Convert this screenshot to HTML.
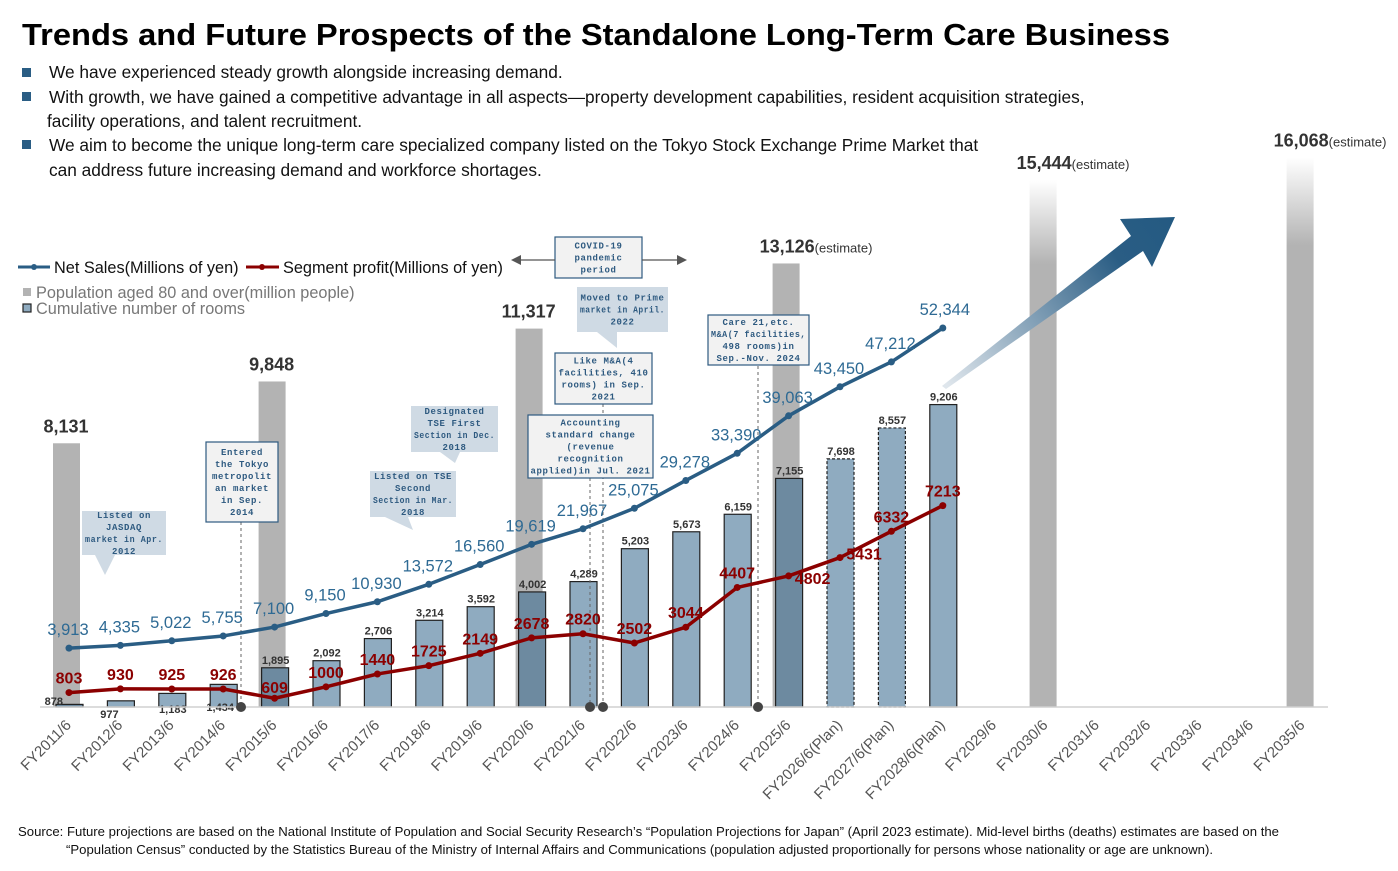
<!DOCTYPE html>
<html><head><meta charset="utf-8">
<style>
html,body{margin:0;padding:0;background:#fff;}
body{width:1398px;height:866px;overflow:hidden;font-family:"Liberation Sans",sans-serif;}
svg text{font-family:"Liberation Sans",sans-serif;}
.ann{font-family:"Liberation Mono",monospace;font-weight:bold;font-size:9px;fill:#2e5a80;letter-spacing:0.6px;}
</style></head>
<body>
<svg id="chart" width="1398" height="866" viewBox="0 0 1398 866" xmlns="http://www.w3.org/2000/svg">
<defs>
<linearGradient id="fadeBar" x1="0" y1="0" x2="0" y2="1">
<stop offset="0" stop-color="#ffffff"/><stop offset="0.16" stop-color="#b3b3b3"/><stop offset="1" stop-color="#b3b3b3"/>
</linearGradient>
<linearGradient id="arrowGrad" x1="945" y1="383" x2="1175" y2="217" gradientUnits="userSpaceOnUse">
<stop offset="0" stop-color="#dfe6ec"/><stop offset="0.75" stop-color="#2a5d84"/><stop offset="1" stop-color="#245a82"/>
</linearGradient>
</defs>
<text x="22" y="45" font-size="31" font-weight="bold" fill="#000" textLength="1148" lengthAdjust="spacingAndGlyphs">Trends and Future Prospects of the Standalone Long-Term Care Business</text>
<g font-size="17.3" fill="#111">
<rect x="22" y="68" width="9" height="9" fill="#2a5d84"/>
<text x="49" y="78">We have experienced steady growth alongside increasing demand.</text>
<rect x="22" y="92" width="9" height="9" fill="#2a5d84"/>
<text x="49" y="103">With growth, we have gained a competitive advantage in all aspects—property development capabilities, resident acquisition strategies,</text>
<text x="47" y="127">facility operations, and talent recruitment.</text>
<rect x="22" y="140" width="9" height="9" fill="#2a5d84"/>
<text x="49" y="151">We aim to become the unique long-term care specialized company listed on the Tokyo Stock Exchange Prime Market that</text>
<text x="49" y="176">can address future increasing demand and workforce shortages.</text>
</g>
<g>
<line x1="18" y1="267" x2="50" y2="267" stroke="#2a5d84" stroke-width="3"/><circle cx="34" cy="267" r="3" fill="#2a5d84"/>
<text x="54" y="273" font-size="16.3" fill="#111">Net Sales(Millions of yen)</text>
<line x1="246" y1="267" x2="279" y2="267" stroke="#8b0000" stroke-width="3"/><circle cx="262" cy="267" r="3" fill="#8b0000"/>
<text x="283" y="273" font-size="16.3" fill="#111">Segment profit(Millions of yen)</text>
<rect x="23" y="288" width="8" height="8" fill="#b3b3b3"/>
<text x="36" y="298" font-size="16.3" fill="#777">Population aged 80 and over(million people)</text>
<rect x="23" y="304" width="8" height="8" fill="#8fabc0" stroke="#222" stroke-width="1.2"/>
<text x="36" y="314" font-size="16.3" fill="#777">Cumulative number of rooms</text>
</g>
<g id="plot"></g>
<g font-size="12.5" fill="#111">
<text x="18" y="836" textLength="1261" lengthAdjust="spacingAndGlyphs">Source: Future projections are based on the National Institute of Population and Social Security Research’s “Population Projections for Japan” (April 2023 estimate). Mid-level births (deaths) estimates are based on the</text>
<text x="66" y="854" textLength="1147" lengthAdjust="spacingAndGlyphs">“Population Census” conducted by the Statistics Bureau of the Ministry of Internal Affairs and Communications (population adjusted proportionally for persons whose nationality or age are unknown).</text>
</g>
</svg>
<script>
const categories = ["FY2011/6","FY2012/6","FY2013/6","FY2014/6","FY2015/6","FY2016/6","FY2017/6","FY2018/6","FY2019/6","FY2020/6","FY2021/6","FY2022/6","FY2023/6","FY2024/6","FY2025/6","FY2026/6(Plan)","FY2027/6(Plan)","FY2028/6(Plan)","FY2029/6","FY2030/6","FY2031/6","FY2032/6","FY2033/6","FY2034/6","FY2035/6"];
const netSales = [3913,4335,5022,5755,7100,9150,10930,13572,16560,19619,21967,25075,29278,33390,39063,43450,47212,52344];
const netSalesLabels = ["3,913","4,335","5,022","5,755","7,100","9,150","10,930","13,572","16,560","19,619","21,967","25,075","29,278","33,390","39,063","43,450","47,212","52,344"];
const segmentProfit = [803,930,925,926,609,1000,1440,1725,2149,2678,2820,2502,3044,4407,4802,5431,6332,7213];
const rooms = [878,977,1183,1434,1895,2092,2706,3214,3592,4002,4289,5203,5673,6159,7155,7698,8557,9206];
const roomLabels = ["878","977","1,183","1,434","1,895","2,092","2,706","3,214","3,592","4,002","4,289","5,203","5,673","6,159","7,155","7,698","8,557","9,206"];
const popIndex = [0,4,9,14,19,24];
const population = [8131,9848,11317,13126,15444,16068];
const popLabels = ["8,131","9,848","11,317","13,126","15,444","16,068"];
const popEstimate = [false,false,false,true,true,true];
const planIndex = [15,16];

const NS="http://www.w3.org/2000/svg";
const plot=document.getElementById('plot');
function mk(tag,attrs,parent){const e=document.createElementNS(NS,tag);for(const k in attrs)e.setAttribute(k,attrs[k]);(parent||plot).appendChild(e);return e;}
const xC=i=>69+i*51.4;
const yRooms=v=>736-v*0.036;
const ySales=v=>674-v*0.00661;
const yProfit=v=>716-v*0.02917;
const BASE=707;

population.forEach((v,k)=>{
  const i=popIndex[k];const top=yRooms(v);
  const r=mk('rect',{x:xC(i)-16,y:top,width:27,height:BASE-top,fill:popEstimate[k]&&k>=4?'url(#fadeBar)':'#b3b3b3'});
  
  
  const t=mk('text',{x:xC(i)-3,y:top-11,'text-anchor':'middle','font-size':18,'font-weight':'bold',fill:'#333'});
  
  
  t.textContent=popLabels[k];
  if(popEstimate[k]){const s=document.createElementNS(NS,'tspan');s.setAttribute('font-size','13');s.setAttribute('font-weight','normal');s.textContent='(estimate)';t.appendChild(s);t.setAttribute('text-anchor','start');t.setAttribute('x',xC(i)-29);}
});

rooms.forEach((v,i)=>{
  const top=yRooms(v);
  const overlap=popIndex.includes(i);
  const r=mk('rect',{x:xC(i)-13,y:top,width:27,height:BASE-top,fill:overlap?'#6d8aa0':'#8fabc0',stroke:'#222','stroke-width':1.2});
  if(planIndex.includes(i))r.setAttribute('stroke-dasharray','3,2');
  
  
  let lx=xC(i)+1,ly=top-4,anchor='middle';
  if(i===0){lx=xC(i)-6;ly=705;anchor='end';}
  else if(i===1){ly=718;lx=xC(i)-11;}
  else if(i===2){ly=713;}
  else if(i===3){ly=711;lx=xC(i)-3;}
  const t=mk('text',{x:lx,y:ly,'text-anchor':anchor,'font-size':11,'font-weight':'bold',fill:'#333'});
  
  
  t.textContent=roomLabels[i];
});

const ax=mk('line',{x1:40,y1:BASE,x2:1328,y2:BASE,stroke:'#d0d0d0','stroke-width':1.5});


categories.forEach((c,i)=>{
  const t=mk('text',{x:0,y:0,'text-anchor':'end','font-size':15,fill:'#555',transform:`translate(${xC(i)+3},${BASE+19}) rotate(-45)`});
  
  
  t.textContent=c;
});

[[241,522],[590,478],[603,404],[758,366]].forEach(m=>{
  const l=mk('line',{x1:m[0],y1:m[1],x2:m[0],y2:BASE,stroke:'#666','stroke-width':1,'stroke-dasharray':'3,3'});
  
  
  const c=mk('circle',{cx:m[0],cy:BASE,r:5,fill:'#444'});
  
  
});

const ar=mk('polygon',{points:'942,386 1131,236 1120,219 1175,217 1152,267 1143,251 946,389',fill:'url(#arrowGrad)'});



function series(vals,yf,color,name){
  const p=mk('polyline',{points:vals.map((v,i)=>xC(i)+','+yf(v)).join(' '),fill:'none',stroke:color,'stroke-width':3.5,'stroke-linejoin':'round'});
  
  
  vals.forEach((v,i)=>{const c=mk('circle',{cx:xC(i),cy:yf(v),r:3.5,fill:color});
    
    });
}
series(netSales,ySales,'#2a5d84','net-sales');
series(segmentProfit,yProfit,'#8b0000','segment-profit');
netSales.forEach((v,i)=>{
  const t=mk('text',{x:xC(i)+(i===17?2:-1),y:ySales(v)-13,'text-anchor':'middle','font-size':16.5,fill:'#2e6a94'});
  
  
  t.textContent=netSalesLabels[i];
});
segmentProfit.forEach((v,i)=>{
  let dx=0,dy=-9;
  if(i===4){dy=-5;}
  if(i===14){dx=24;dy=8;}
  if(i===15){dx=24;dy=2;}
  const t=mk('text',{x:xC(i)+dx,y:yProfit(v)+dy,'text-anchor':'middle','font-size':16,'font-weight':'bold',fill:'#8b0000'});
  
  
  t.textContent=String(v);
});

const anns=[
 {n:'jasdaq-callout',x:82,y:511,w:84,h:44,b:false,tail:[95,555,115,555,105,575],l:["Listed on","JASDAQ","market in Apr.","2012"]},
 {n:'tokyo-market-callout',x:206,y:442,w:72,h:80,b:true,l:["Entered","the Tokyo","metropolit","an market","in Sep.","2014"]},
 {n:'tse-second-callout',x:370,y:471,w:86,h:46,b:false,tail:[385,517,408,517,413,530],l:["Listed on TSE","Second","Section in Mar.","2018"]},
 {n:'tse-first-callout',x:411,y:406,w:87,h:46,b:false,tail:[440,452,460,452,455,463],l:["Designated","TSE First","Section in Dec.","2018"]},
 {n:'covid-period-box',x:555,y:237,w:87,h:41,b:true,l:["COVID-19","pandemic","period"]},
 {n:'prime-market-callout',x:577,y:287,w:91,h:45,b:false,tail:[597,332,617,332,617,348],l:["Moved to Prime","market in April.","2022"]},
 {n:'ma-2021-callout',x:555,y:353,w:97,h:51,b:true,l:["Like M&A(4","facilities, 410","rooms) in Sep.","2021"]},
 {n:'accounting-change-callout',x:528,y:415,w:125,h:63,b:true,l:["Accounting","standard change","(revenue","recognition","applied)in Jul. 2021"]},
 {n:'ma-2024-callout',x:708,y:315,w:101,h:50,b:true,l:["Care 21,etc.","M&A(7 facilities,","498 rooms)in","Sep.-Nov. 2024"]}
];
anns.forEach(a=>{
  const g=mk('g',{});
  
  
  mk('rect',{x:a.x,y:a.y,width:a.w,height:a.h,fill:a.b?'#f2f2f2':'#cfdae4',stroke:a.b?'#2e5a80':'none','stroke-width':1.2},g);
  if(a.tail)mk('polygon',{points:a.tail.join(' '),fill:'#cfdae4'},g);
  const step=12, start=a.y+(a.h-a.l.length*step)/2+9;
  a.l.forEach((s,k)=>{const t=mk('text',{x:a.x+a.w/2,y:start+k*step,'text-anchor':'middle',class:'ann'},g);
    if(s.length*6.0>a.w-4){t.setAttribute('textLength',a.w-6);t.setAttribute('lengthAdjust','spacingAndGlyphs');}
    t.textContent=s;});
});
[[555,511],[642,687]].forEach(p=>{
  const l=mk('line',{x1:p[0],y1:260,x2:p[1]+(p[1]>p[0]?-8:8),y2:260,stroke:'#555','stroke-width':1.3});
  
  
  const d=p[1]>p[0]?-1:1;
  mk('polygon',{points:`${p[1]},260 ${p[1]+d*10},255 ${p[1]+d*10},265`,fill:'#555'});
});
</script>
</body></html>
